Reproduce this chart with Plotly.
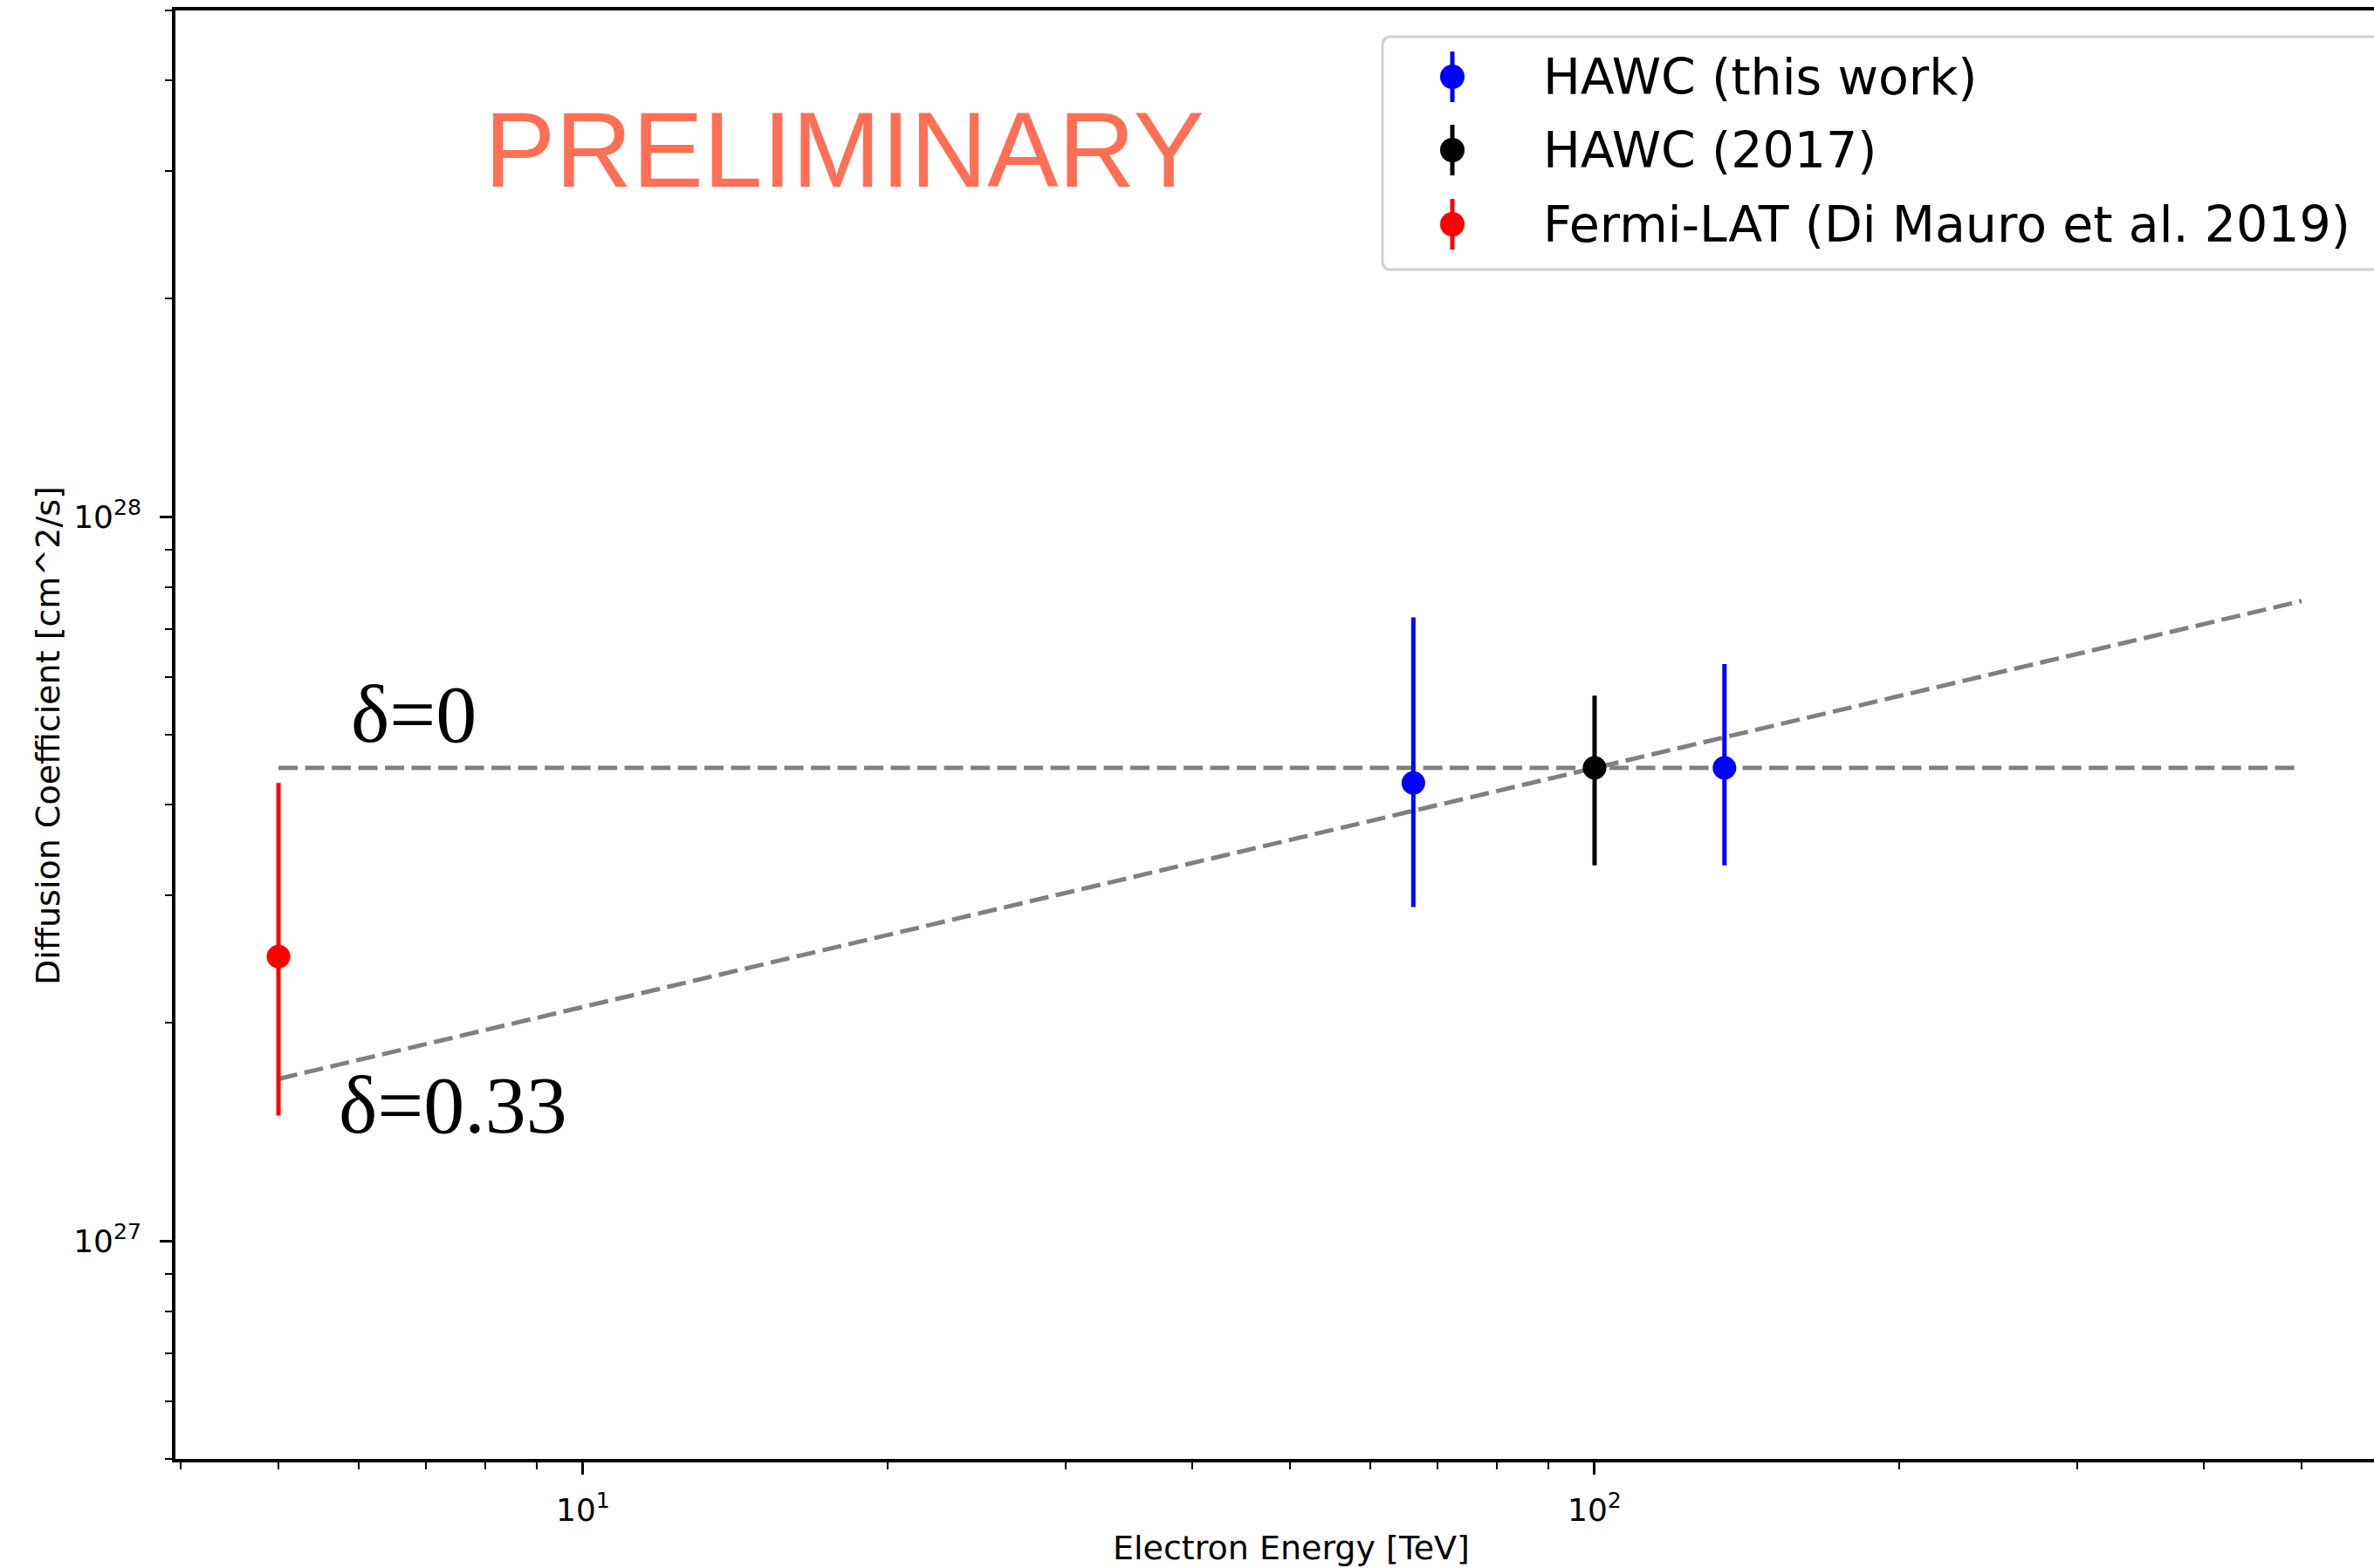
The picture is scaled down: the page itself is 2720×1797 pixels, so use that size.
import plotly.graph_objects as go

# ---------------- data ----------------
hawc_E = [66.2, 134.4]
hawc_D = [4.29e27, 4.50e27]
hawc_lo = [2.89e27, 3.30e27]
hawc_hi = [7.26e27, 6.26e27]

hawc17_E = [100.0]
hawc17_D = [4.50e27]
hawc17_lo = [3.30e27]
hawc17_hi = [5.66e27]

fermi_E = [5.0]
fermi_D = [2.47e27]
fermi_lo = [1.49e27]
fermi_hi = [4.29e27]

model_E = [5.0, 500.0]
delta0_D = [4.5e27, 4.5e27]
delta033_D = [1.674e27, 7.65e27]

x_tickvals = [10.0, 100.0]
x_ticktext = ["10<sup>1</sup>", "10<sup>2</sup>"]
y_tickvals = [1e27, 1e28]
y_ticktext = ["10<sup>27</sup>", "10<sup>28</sup>"]

legend_labels = ["HAWC (this work)", "HAWC (2017)", "Fermi-LAT (Di Mauro et al. 2019)"]
legend_colors = ["#0000ff", "#000000", "#ff0000"]

# ---------------- layout geometry ----------------
W, H = 2720, 1797
L, R, T, B = 201, 0, 12, 125
PW = W - L - R
PH = H - T - B


def px(xp):
    return (xp - L) / PW


def py(yp):
    return (H - B - yp) / PH


fig = go.Figure()

dash_line = dict(color="#808080", width=5, dash="22px,8.5px")
fig.add_trace(go.Scatter(x=model_E, y=delta0_D, mode="lines", line=dash_line,
                         showlegend=False, hoverinfo="skip"))
fig.add_trace(go.Scatter(x=model_E, y=delta033_D, mode="lines", line=dash_line,
                         showlegend=False, hoverinfo="skip"))


def points(E, D, lo, hi, color, name):
    return go.Scatter(
        x=E, y=D, mode="markers", name=name,
        marker=dict(color=color, size=27, line=dict(width=0)),
        error_y=dict(type="data", symmetric=False,
                     array=[h - d for h, d in zip(hi, D)],
                     arrayminus=[d - l for d, l in zip(D, lo)],
                     color=color, thickness=5, width=0),
        showlegend=False,
    )


fig.add_trace(points(hawc_E, hawc_D, hawc_lo, hawc_hi, legend_colors[0], legend_labels[0]))
fig.add_trace(points(hawc17_E, hawc17_D, hawc17_lo, hawc17_hi, legend_colors[1], legend_labels[1]))
fig.add_trace(points(fermi_E, fermi_D, fermi_lo, fermi_hi, legend_colors[2], legend_labels[2]))

x_minor = [float(m) * 10.0 ** e for e in (0, 1, 2) for m in range(2, 10)]
y_minor = [float(m) * 10.0 ** e for e in (26, 27, 28) for m in range(2, 10)]

tickfont = dict(family="DejaVu Sans", size=36, color="black")

fig.update_layout(
    width=W, height=H,
    margin=dict(l=L, r=R, t=T, b=B, pad=0),
    paper_bgcolor="white", plot_bgcolor="white",
    font=dict(family="DejaVu Sans", color="black"),
    xaxis=dict(
        type="log", range=[0.5971, 2.7705],
        showline=True, linecolor="black", linewidth=3.5, mirror=True,
        ticks="outside", ticklen=14, tickwidth=3, tickcolor="black",
        tickvals=x_tickvals, ticktext=x_ticktext, tickfont=tickfont,
        ticklabelstandoff=10,
        showgrid=False, zeroline=False,
        minor=dict(tickvals=x_minor, ticks="outside", ticklen=8, tickwidth=2,
                   tickcolor="black", showgrid=False),
    ),
    yaxis=dict(
        type="log", range=[26.699, 28.699],
        showline=True, linecolor="black", linewidth=3.5, mirror=False,
        ticks="outside", ticklen=14, tickwidth=3, tickcolor="black",
        tickvals=y_tickvals, ticktext=y_ticktext, tickfont=tickfont,
        ticklabelstandoff=14,
        showgrid=False, zeroline=False,
        minor=dict(tickvals=y_minor, ticks="outside", ticklen=8, tickwidth=2,
                   tickcolor="black", showgrid=False),
    ),
)

annotations = []
shapes = []

# axis titles
annotations.append(dict(text="Electron Energy [TeV]", xref="paper", yref="paper",
                        x=px(1479), y=py(1774), xanchor="center", yanchor="middle",
                        showarrow=False, font=dict(family="DejaVu Sans", size=38, color="black")))
annotations.append(dict(text="Diffusion Coefficient [cm^2/s]", xref="paper", yref="paper",
                        x=px(55), y=py(843), xanchor="center", yanchor="middle", textangle=-90,
                        showarrow=False, font=dict(family="DejaVu Sans", size=38, color="black")))

# PRELIMINARY
annotations.append(dict(text="PRELIMINARY", xref="paper", yref="paper",
                        x=px(553), y=py(172), xanchor="left", yanchor="middle",
                        showarrow=False, font=dict(family="Liberation Sans", size=122, color="#ff6f55")))

# delta labels
annotations.append(dict(text="δ=0", xref="paper", yref="paper",
                        x=px(400), y=py(818), xanchor="left", yanchor="middle",
                        showarrow=False, font=dict(family="Liberation Serif", size=94, color="black")))
annotations.append(dict(text="δ=0.33", xref="paper", yref="paper",
                        x=px(386), y=py(1266), xanchor="left", yanchor="middle",
                        showarrow=False, font=dict(family="Liberation Serif", size=94, color="black")))

# manual legend box (rounded)
bx0, by0, bx1, by1, rr = 1584, 42, 2780, 309, 10
pts = [
    ("M", bx0 + rr, by0), ("L", bx1 - rr, by0), ("Q", bx1, by0, bx1, by0 + rr),
    ("L", bx1, by1 - rr), ("Q", bx1, by1, bx1 - rr, by1),
    ("L", bx0 + rr, by1), ("Q", bx0, by1, bx0, by1 - rr),
    ("L", bx0, by0 + rr), ("Q", bx0, by0, bx0 + rr, by0),
]
path = ""
for p in pts:
    cmd = p[0]
    coords = p[1:]
    seg = []
    for i in range(0, len(coords), 2):
        seg.append(f"{px(coords[i]):.6f},{py(coords[i + 1]):.6f}")
    path += cmd + " " + " ".join(seg) + " "
path += "Z"
shapes.append(dict(type="path", xref="paper", yref="paper", path=path,
                   fillcolor="rgba(255,255,255,0.8)", line=dict(color="#d0d0d0", width=3),
                   layer="above"))

row_y = [88, 172, 257]
sym_x = 1664
for lab, col, yc in zip(legend_labels, legend_colors, row_y):
    shapes.append(dict(type="line", xref="paper", yref="paper",
                       x0=px(sym_x), x1=px(sym_x), y0=py(yc - 29), y1=py(yc + 29),
                       line=dict(color=col, width=5)))
    shapes.append(dict(type="circle", xref="paper", yref="paper",
                       x0=px(sym_x - 14), x1=px(sym_x + 14), y0=py(yc + 14), y1=py(yc - 14),
                       fillcolor=col, line=dict(width=0)))
    annotations.append(dict(text=lab, xref="paper", yref="paper",
                            x=px(1766), y=py(yc), xanchor="left", yanchor="middle",
                            showarrow=False, font=dict(family="DejaVu Sans", size=57, color="black")))

fig.update_layout(annotations=annotations, shapes=shapes)

fig.write_html("out.html")
